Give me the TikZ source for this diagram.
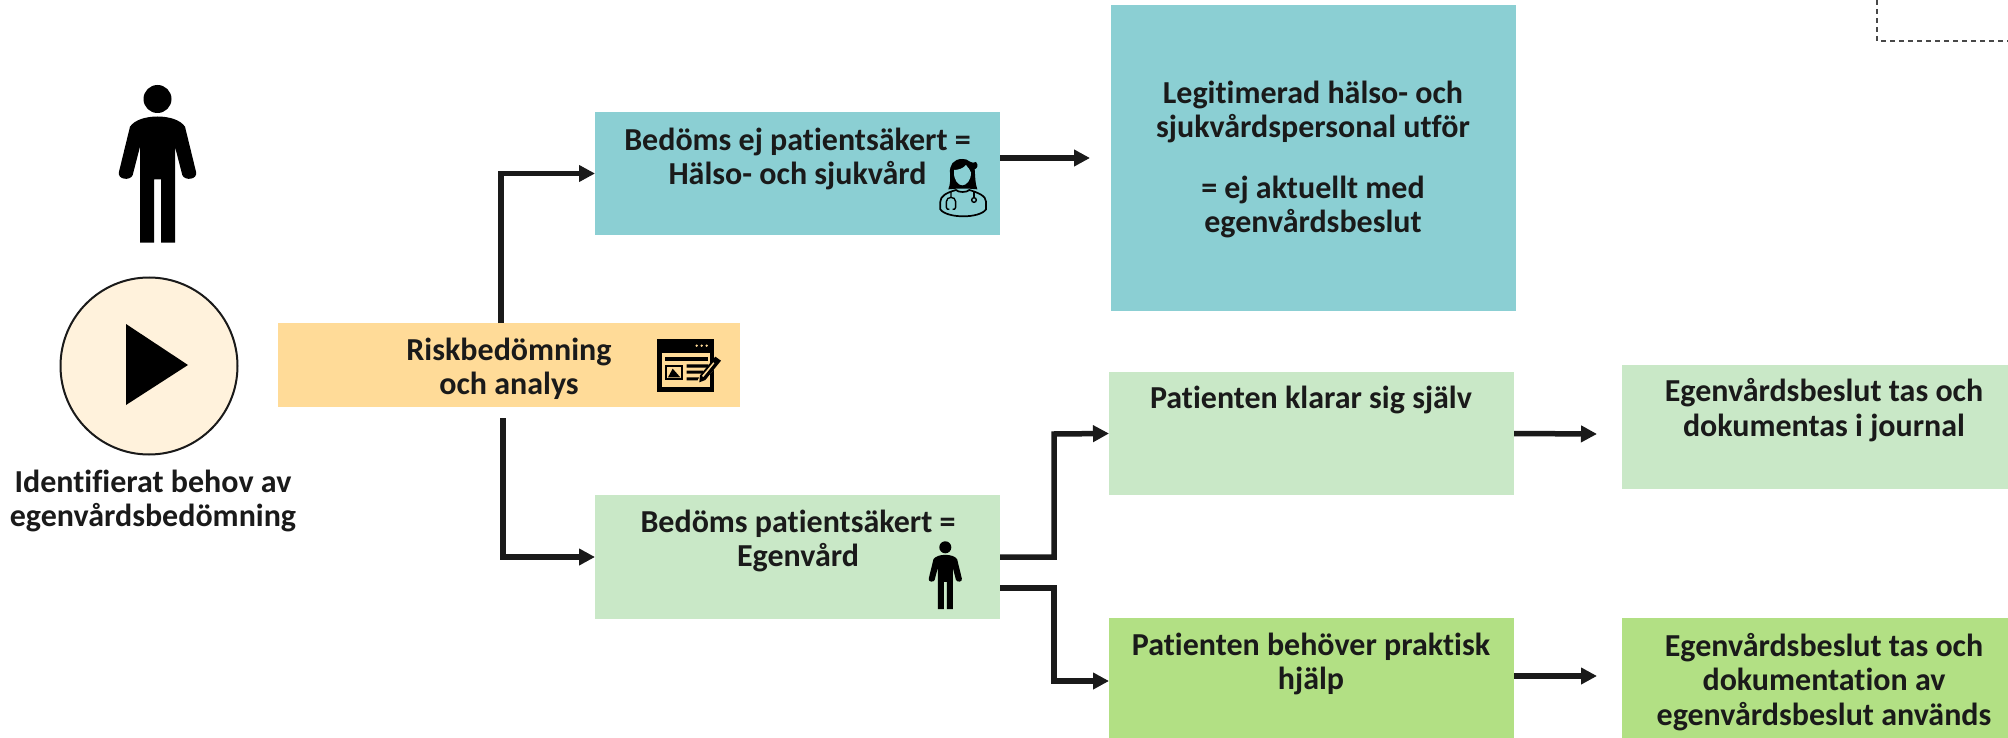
\documentclass[tikz,border=0pt]{standalone}
\usepackage{fontspec}
\setmainfont{Carlito}[Ligatures=NoCommon]
\usetikzlibrary{arrows.meta}
\definecolor{ink}{HTML}{1A1A1A}
\definecolor{teal}{HTML}{8BCFD3}
\definecolor{sand}{HTML}{FFDB98}
\definecolor{mint}{HTML}{C9E8C7}
\definecolor{leaf}{HTML}{B2E084}
\definecolor{cream}{HTML}{FFF2DC}
\tikzset{
  x=1pt,y=-1pt,
  boxn/.style={rectangle,draw=none,inner sep=0pt,outer sep=0pt,anchor=north west},
  txt/.style={font=\fontsize{32}{34.5}\selectfont\bfseries,text=ink,align=center,inner sep=0pt},
  conn/.style={draw=ink,line width=5.5pt,miter limit=10},
  arr/.style={conn,-{Triangle[length=16pt,width=16pt]}},
  personicon/.pic={
    \fill[black] (0,0) circle[radius=14];
    \fill[black] (0,17.5) .. controls (12,17.5) and (23,21) .. (27.5,27.7)
      -- (38.5,72.7) .. controls (40.5,81) and (27,82) .. (24.8,76)
      -- (17.5,47.7) -- (17.5,143.7) -- (3.5,143.7) -- (3.5,80.3) -- (-3.5,80.3)
      -- (-3.5,143.7) -- (-17.5,143.7) -- (-17.5,47.7) -- (-24.8,76)
      .. controls (-27,82) and (-40.5,81) .. (-38.5,72.7)
      -- (-27.5,27.7) .. controls (-23,21) and (-12,17.5) .. (0,17.5) -- cycle;
  }
}
\begin{document}
\begin{tikzpicture}
\useasboundingbox (0,0) rectangle (2008,738);
% dashed corner
\coordinate (dashA) at (1877,0);
\coordinate (dashB) at (2008,41);
\draw[ink!80,line width=1.3pt,dash pattern=on 5pt off 4pt] (dashA) |- (dashB);
% boxes
\node[boxn,fill=teal,minimum width=405pt,minimum height=123pt] (ej) at (595,112) {};
\node[boxn,fill=teal,minimum width=405pt,minimum height=306pt] (legit) at (1111,5) {};
\node[boxn,fill=sand,minimum width=462pt,minimum height=84pt] (risk) at (278,323) {};
\node[boxn,fill=mint,minimum width=405pt,minimum height=124pt] (egen) at (595,495) {};
\node[boxn,fill=mint,minimum width=405pt,minimum height=123pt] (klarar) at (1109,372) {};
\node[boxn,fill=mint,minimum width=386pt,minimum height=124pt] (beslutA) at (1622,365) {};
\node[boxn,fill=leaf,minimum width=405pt,minimum height=120pt] (hjalp) at (1109,618) {};
\node[boxn,fill=leaf,minimum width=386pt,minimum height=120pt] (beslutB) at (1622,618) {};
% start circle
\node[circle,draw=ink,line width=2pt,fill=cream,minimum size=177pt,inner sep=0pt] (start) at (149,366) {};
\fill[black] (126,324) -- (188,365) -- (126,405) -- cycle;
% connectors
\coordinate (legitEnd) at (1090,158);
\coordinate (beslutAEnd) at (1597,434);
\coordinate (beslutBEnd) at (1597,676);
\coordinate (upEl) at (1054,434);
\coordinate (downEl) at (1054,681);
\draw[arr] ([xshift=223pt]risk.north west) |- (ej.west);
\draw[arr] ([xshift=225pt,yshift=-11pt]risk.south west) |- (egen.west);
\draw[arr] ([yshift=15.5pt]ej.east) -- (legitEnd);
\draw[arr] (egen.east) -| (upEl) -- (klarar.west);
\draw[arr] ([yshift=-31pt]egen.east) -| (downEl) -- ([yshift=-3pt]hjalp.west);
\draw[arr] (klarar.east) -- (beslutAEnd);
\draw[arr] ([yshift=2pt]hjalp.east) -- (beslutBEnd);
% texts
\node[txt] (t0) at (153,501) {Identifierat behov av\\egenvårdsbedömning};
\node[txt] (t1) at (509,369) {Riskbedömning\\och analys};
\node[txt] (t2) at (797.5,159) {Bedöms ej patientsäkert =\\Hälso- och sjukvård};
\node[txt] (t3) at (1313,159.5) {Legitimerad hälso- och\\sjukvårdspersonal utför\\[26pt]= ej aktuellt med\\egenvårdsbeslut};
\node[txt] (t4) at (798,541) {Bedöms patientsäkert =\\Egenvård};
\node[txt] (t5) at (1311,400) {Patienten klarar sig själv};
\node[txt] (t6) at (1824,410) {Egenvårdsbeslut tas och\\dokumentas i journal};
\node[txt] (t7) at (1311,664) {Patienten behöver praktisk\\hjälp};
\node[txt] (t8) at (1824,682) {Egenvårdsbeslut tas och\\dokumentation av\\egenvårdsbeslut används};
% icons
\pic at (157.5,99) {personicon};
\pic[scale=0.43] at (945.3,547.3) {personicon};
% doctor
\begin{scope}[shift={(930,150)},x=0.3333pt,y=-0.3333pt]
  \fill[black] (97,27) .. controls (70,27) and (58,45) .. (60,70) .. controls (60,90) and (62,100) .. (55,118)
    -- (80,116) -- (118,116) -- (142,118) .. controls (135,100) and (136,80) .. (134,58)
    .. controls (142,55) and (146,45) .. (138,36) .. controls (132,40) and (125,38) .. (120,35) .. controls (112,28) and (105,27) .. (97,27) -- cycle;
  \fill[teal] (72,60) .. controls (85,60) and (100,55) .. (108,45) .. controls (115,55) and (122,60) .. (123,68)
    .. controls (123,90) and (110,106) .. (97,106) .. controls (84,106) and (72,90) .. (72,68) -- cycle;
  \draw[black,line width=1.7pt,fill=teal] (31,178) -- (31,155) .. controls (31,138) and (50,128) .. (78,120)
    .. controls (85,128) and (110,128) .. (118,120) .. controls (145,128) and (168,138) .. (168,155)
    -- (168,178) .. controls (150,206) and (50,206) .. (31,178) -- cycle;
  \draw[black,line width=1.4pt] (63,124) -- (63,143) (49,172) -- (49,155) .. controls (49,138) and (77,138) .. (77,155) -- (77,172) .. controls (77,178) and (72,178) .. (68,178)
     (49,172) .. controls (49,178) and (54,178) .. (58,178);
  \draw[black,line width=1.4pt] (132,122) -- (132,142);
  \draw[black,line width=1.4pt] (132,150) circle[radius=7];
\end{scope}
% window
\begin{scope}[shift={(650,330)},x=0.3333pt,y=-0.3333pt]
  \fill[black] (22,26) rectangle (193,186);
  \fill[sand] (36,68) rectangle (180,172);
  \fill[sand] (140,47) circle[radius=4] (155,47) circle[radius=4] (170,47) circle[radius=4];
  \fill[black] (45,80) rectangle (175,92);
  \fill[black] (45,105) rectangle (100,150);
  \fill[sand] (51,111) rectangle (94,144);
  \fill[black] (54,142) -- (68,116) -- (91,142) -- cycle;
  \fill[black] (110,103) rectangle (175,113) (110,122) rectangle (160,131) (110,142) rectangle (148,151);
  \draw[sand,line width=6pt,line cap=round] (152,152) -- (203,90);
  \fill[black] (148,157) -- (150,136) -- (196,80) -- (213,92) -- (166,150) -- cycle;
  \fill[sand] (156,138) -- (190,97) -- (193,100) -- (160,141) -- cycle;
\end{scope}
\end{tikzpicture}
\end{document}
